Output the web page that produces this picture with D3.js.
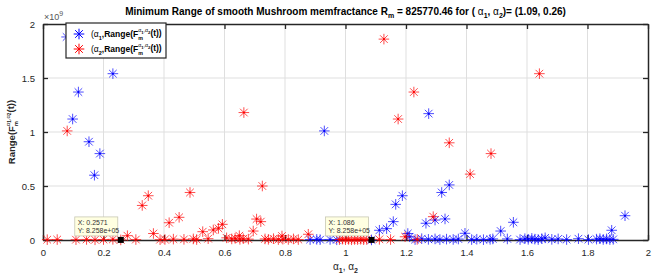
<!DOCTYPE html>
<html>
<head>
<meta charset="utf-8">
<script src="https://cdn.jsdelivr.net/npm/d3@7"></script>
<style>
  body { margin: 0; background: #fff; }
  text { font-family: "Liberation Sans", Arial, sans-serif; }
</style>
</head>
<body>
<script>
// values in units of 1e9 (axis shows x10^9)
let alpha1Pts = [
  [0.078, 1.88], [0.098, 1.12], [0.117, 1.37], [0.152, 0.91], [0.170, 0.60], [0.188, 0.80],
  [0.231, 1.54], [0.930, 1.01], [0.883, 0.004], [0.905, 0.006], [0.916, 0.003], [0.949, 0.005],
  [0.971, 0.002], [1.086, 0.000826], [1.112, 0.09], [1.136, 0.105], [1.158, 0.17], [1.166, 0.33],
  [1.188, 0.41], [1.206, 0.06], [1.212, 0.03], [1.230, 0.004], [1.252, 0.012], [1.266, 0.155],
  [1.275, 1.17], [1.274, 0.006], [1.296, 0.185], [1.296, 0.01], [1.312, 0.004], [1.318, 0.44],
  [1.329, 0.195], [1.334, 0.008], [1.343, 0.51], [1.356, 0.005], [1.373, 0.009], [1.395, 0.062],
  [1.417, 0.004], [1.434, 0.007], [1.456, 0.003], [1.478, 0.006], [1.487, 0.01], [1.513, 0.083],
  [1.535, 0.01], [1.555, 0.164], [1.577, 0.004], [1.593, 0.012], [1.604, 0.006], [1.616, 0.015],
  [1.626, 0.008], [1.637, 0.004], [1.649, 0.012], [1.660, 0.02], [1.682, 0.006], [1.703, 0.01],
  [1.731, 0.004], [1.770, 0.012], [1.803, 0.004], [1.830, 0.008], [1.841, 0.012], [1.852, 0.005],
  [1.863, 0.01], [1.874, 0.004], [1.880, 0.09], [1.885, 0.006], [1.924, 0.225]
];

let alpha2Pts = [
  [0.014, 0.003], [0.047, 0.004], [0.080, 1.01], [0.109, 0.003], [0.144, 0.005], [0.172, 0.002],
  [0.200, 0.004], [0.231, 0.006], [0.2571, 0.000826], [0.279, 0.04], [0.307, 0.004], [0.328, 0.32],
  [0.348, 0.41], [0.365, 0.06], [0.387, 0.003], [0.403, 0.005], [0.417, 0.16], [0.431, 0.008],
  [0.450, 0.21], [0.466, 0.006], [0.486, 0.44], [0.497, 0.01], [0.508, 0.004], [0.528, 0.077],
  [0.546, 0.012], [0.563, 0.093], [0.580, 0.108], [0.593, 0.145], [0.607, 0.02], [0.624, 0.01],
  [0.635, 0.016], [0.649, 0.04], [0.651, 0.006], [0.662, 0.012], [0.664, 1.18], [0.679, 0.008],
  [0.695, 0.083], [0.706, 0.194], [0.720, 0.17], [0.725, 0.50], [0.734, 0.01], [0.745, 0.006],
  [0.762, 0.012], [0.778, 0.004], [0.790, 0.037], [0.793, 0.008], [0.811, 0.005], [0.828, 0.01],
  [0.844, 0.004], [0.877, 0.053], [0.980, 0.004], [0.990, 0.008], [1.000, 0.003], [1.010, 0.006],
  [1.020, 0.002], [1.030, 0.005], [1.040, 0.004], [1.050, 0.007], [1.060, 0.003], [1.070, 0.005],
  [1.112, 0.006], [1.127, 1.86], [1.149, 0.004], [1.174, 1.12], [1.197, 0.03], [1.226, 1.37],
  [1.237, 0.006], [1.290, 0.216], [1.343, 0.90], [1.412, 0.61], [1.481, 0.80], [1.641, 1.54]
];

let xTicks = [0, 0.2, 0.4, 0.6, 0.8, 1, 1.2, 1.4, 1.6, 1.8, 2];
let yTicks = [0, 0.5, 1, 1.5, 2];
let dataTips = [[0.2571, 0.000826, '0.2571', '8.258e+05'], [1.086, 0.000826, '1.086', '8.258e+05']];

let width = 664,
    height = 277;

let margin = { top: 24, bottom: 37, left: 43, right: 16 };

let svg = d3.select('body')
  .append('svg')
    .attr('width', width)
    .attr('height', height);

let xScale = d3.scaleLinear()
  .domain([0, 2])
  .range([margin.left, width - margin.right]);

let yScale = d3.scaleLinear()
  .domain([0, 2])
  .range([height - margin.bottom, margin.top]);

let axisColor = '#262626';

// grid
svg.append('g').selectAll('line')
  .data(xTicks.slice(1, -1))
  .enter().append('line')
    .attr('x1', d => xScale(d)).attr('x2', d => xScale(d))
    .attr('y1', yScale(0)).attr('y2', yScale(2))
    .attr('stroke', '#dfdfdf').attr('stroke-width', 1);

svg.append('g').selectAll('line')
  .data(yTicks.slice(1, -1))
  .enter().append('line')
    .attr('x1', xScale(0)).attr('x2', xScale(2))
    .attr('y1', d => yScale(d)).attr('y2', d => yScale(d))
    .attr('stroke', '#dfdfdf').attr('stroke-width', 1);

// axes (ticks inward on all four sides)
let fmt = d => d3.format('')(+d.toFixed(1));

let xAxis = svg.append('g')
  .attr('transform', `translate(0,${yScale(0)})`)
  .call(d3.axisBottom(xScale).tickValues(xTicks).tickSizeInner(-5).tickSizeOuter(0).tickPadding(9).tickFormat(fmt));

let xTop = svg.append('g')
  .attr('transform', `translate(0,${yScale(2)})`)
  .call(d3.axisTop(xScale).tickValues(xTicks).tickSizeInner(-5).tickSizeOuter(0).tickFormat(''));

let yAxis = svg.append('g')
  .attr('transform', `translate(${xScale(0)},0)`)
  .call(d3.axisLeft(yScale).tickValues(yTicks).tickSizeInner(-5).tickSizeOuter(0).tickPadding(8).tickFormat(fmt));

let yRight = svg.append('g')
  .attr('transform', `translate(${xScale(2)},0)`)
  .call(d3.axisRight(yScale).tickValues(yTicks).tickSizeInner(-5).tickSizeOuter(0).tickFormat(''));

[xAxis, xTop, yAxis, yRight].forEach(g => {
  g.select('.domain').attr('stroke', axisColor).attr('stroke-width', 1.5);
  g.selectAll('.tick line').attr('stroke', axisColor).attr('stroke-width', 1.3);
  g.selectAll('.tick text').attr('fill', axisColor).style('font-size', '9.5px')
    .style('font-family', '"Liberation Sans", Arial, sans-serif');
});

// star markers
function star(r) {
  let q = r * 0.72;
  return `M${-r},0L${r},0M0,${-r}L0,${r}M${-q},${-q}L${q},${q}M${-q},${q}L${q},${-q}`;
}

function drawSeries(pts, color) {
  let g = svg.append('g');
  g.selectAll('path')
    .data(pts)
    .enter().append('path')
      .attr('transform', d => `translate(${xScale(d[0])},${yScale(d[1])})`)
      .attr('d', star(5.3))
      .attr('fill', 'none')
      .attr('stroke', color)
      .attr('stroke-width', 1)
      .attr('stroke-opacity', 0.7);
  g.selectAll('circle')
    .data(pts)
    .enter().append('circle')
      .attr('cx', d => xScale(d[0]))
      .attr('cy', d => yScale(d[1]))
      .attr('r', 1)
      .attr('fill', color);
}

drawSeries(alpha1Pts, '#0000ff');
drawSeries(alpha2Pts, '#ff0000');

// data tips
dataTips.forEach(t => {
  let px = xScale(t[0]), py = yScale(t[1]);
  let g = svg.append('g');
  g.append('rect')
    .attr('x', px - 46).attr('y', py - 23)
    .attr('width', 43).attr('height', 19)
    .attr('fill', '#ffffe1').attr('stroke', '#c8c8b4').attr('stroke-width', 0.8);
  g.append('text').attr('x', px - 43).attr('y', py - 14.5)
    .style('font-size', '7px').attr('fill', '#333').text('X: ' + t[2]);
  g.append('text').attr('x', px - 43).attr('y', py - 6.5)
    .style('font-size', '7px').attr('fill', '#333').text('Y: ' + t[3]);
  g.append('rect')
    .attr('x', px - 3).attr('y', py - 3)
    .attr('width', 6).attr('height', 6)
    .attr('fill', '#000');
});

// x10^9 exponent label
let expo = svg.append('text')
  .attr('x', xScale(0) + 1).attr('y', margin.top - 4)
  .style('font-size', '9px').attr('fill', '#555');
expo.append('tspan').text('\u00d710');
expo.append('tspan').attr('dy', -4).style('font-size', '7px').text('9');

// title
let title = svg.append('text')
  .attr('x', (xScale(0) + xScale(2)) / 2).attr('y', 15)
  .attr('text-anchor', 'middle')
  .style('font-size', '10px').style('font-weight', 'bold').attr('fill', '#000');
title.append('tspan').text('Minimum Range of smooth Mushroom memfractance R');
title.append('tspan').attr('dy', 3).style('font-size', '7px').text('m');
title.append('tspan').attr('dy', -3).text(' = 825770.46  for ( ');
title.append('tspan').style('font-weight', 'normal').text('\u03b1');
title.append('tspan').attr('dy', 3).style('font-size', '7px').text('1');
title.append('tspan').attr('dy', -3).text(', ');
title.append('tspan').style('font-weight', 'normal').text('\u03b1');
title.append('tspan').attr('dy', 3).style('font-size', '7px').text('2');
title.append('tspan').attr('dy', -3).text(')= (1.09, 0.26)');

// x label
let xl = svg.append('text')
  .attr('x', (xScale(0) + xScale(2)) / 2).attr('y', 270)
  .attr('text-anchor', 'middle')
  .style('font-size', '10px').attr('fill', axisColor);
xl.append('tspan').text('\u03b1');
xl.append('tspan').attr('dy', 3).style('font-size', '7px').style('font-weight', 'bold').text('1');
xl.append('tspan').attr('dy', -3).text(', \u03b1');
xl.append('tspan').attr('dy', 3).style('font-size', '7px').style('font-weight', 'bold').text('2');

// Range(F_m^{a1,a2}(t)) built from tspans
function rangeLabel(sel, size) {
  let s = size * 0.62;
  sel.append('tspan').text('Range(F');
  sel.append('tspan').attr('dy', size * 0.3).style('font-size', s + 'px').text('m');
  sel.append('tspan').attr('dx', -s * 0.9).attr('dy', -size * 0.85).style('font-size', s + 'px')
    .style('font-weight', 'normal').text('\u03b1');
  sel.append('tspan').attr('dy', size * 0.15).style('font-size', (s * 0.8) + 'px').text('1');
  sel.append('tspan').attr('dy', -size * 0.15).style('font-size', s + 'px').style('font-weight', 'normal').text(',\u03b1');
  sel.append('tspan').attr('dy', size * 0.15).style('font-size', (s * 0.8) + 'px').text('2');
  sel.append('tspan').attr('dy', size * 0.25).text('(t))');
}

let yl = svg.append('text')
  .attr('transform', `translate(15,${(yScale(0) + yScale(2)) / 2}) rotate(-90)`)
  .attr('text-anchor', 'middle')
  .style('font-size', '9.5px').style('font-weight', 'bold').attr('fill', axisColor);
rangeLabel(yl, 9.5);

// legend
let legend = svg.append('g').attr('transform', 'translate(66,23)');
legend.append('rect')
  .attr('width', 100).attr('height', 35)
  .attr('fill', '#fff').attr('stroke', axisColor).attr('stroke-width', 1.2);

let legendItems = legend.selectAll('.legend-item')
  .data([['1', '#0000ff'], ['2', '#ff0000']])
  .enter().append('g')
  .attr('class', 'legend-item')
  .attr('transform', (d, i) => `translate(0,${11 + i * 15})`);

legendItems.append('path')
  .attr('transform', 'translate(13,0)')
  .attr('d', star(5.3))
  .attr('fill', 'none')
  .attr('stroke', d => d[1])
  .attr('stroke-width', 1);

legendItems.each(function(d) {
  let t = d3.select(this).append('text')
    .attr('x', 25).attr('y', 3)
    .style('font-size', '8.5px').style('font-weight', 'bold').attr('fill', '#000');
  t.append('tspan').style('font-weight', 'normal').text('(\u03b1');
  t.append('tspan').attr('dy', 2.5).style('font-size', '5.5px').text(d[0]);
  t.append('tspan').attr('dy', -2.5).text(',');
  rangeLabel(t, 8.5);
});
</script>
</body>
</html>
